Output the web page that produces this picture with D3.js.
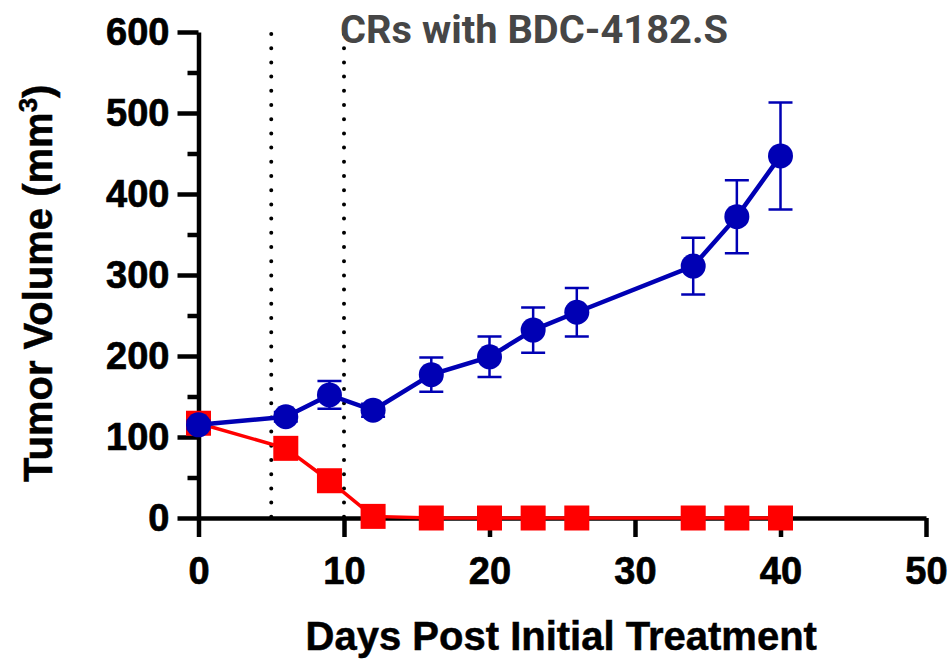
<!DOCTYPE html>
<html>
<head>
<meta charset="utf-8">
<title>CRs with BDC-4182.S</title>
<script src="https://cdn.jsdelivr.net/npm/d3@7"></script>
<style>
  * { margin: 0; padding: 0; }
  body { background: #fff; }
  #chart { width: 951px; height: 659px; }
</style>
</head>
<body>
<div id="chart"></div>
<script>
  // data
  var days = [0, 6, 9, 12, 16, 20, 23, 26, 34, 37, 40];
  var controlMean = [115, 125, 152, 133, 177, 199, 232, 254, 311, 372, 447];
  var controlErr = [5, 6, 17, 8, 21, 25, 28, 30, 35, 45, 66];
  var treatedMean = [117, 86, 46, 2, 0, 0, 0, 0, 0, 0, 0];
  var xTicks = [0, 10, 20, 30, 40, 50];
  var yTicks = [0, 100, 200, 300, 400, 500, 600];
  var yMinor = [50, 150, 250, 350, 450, 550];
  var dosingDays = [5, 10];

  var blue = '#0000b4';
  var red = '#ff0000';
  var font = '"Liberation Sans", Arial, sans-serif';

  var svg = d3.select('#chart').append('svg')
      .attr('width', 951)
      .attr('height', 659);

  var x = d3.scaleLinear().domain([0, 50]).range([198.5, 926]);
  var y = d3.scaleLinear().domain([0, 600]).range([518, 32]);

  // dotted treatment lines
  svg.selectAll('.dose').data(dosingDays)
    .enter().append('line')
      .attr('x1', function(d) { return x(d); })
      .attr('x2', function(d) { return x(d); })
      .attr('y1', y(600) + 2)
      .attr('y2', y(0))
      .attr('stroke', '#000')
      .attr('stroke-width', 4)
      .attr('stroke-linecap', 'round')
      .attr('stroke-dasharray', '0 14.2');

  // axes
  svg.append('g')
      .attr('transform', 'translate(' + x(0) + ',0)')
      .call(d3.axisLeft(y).tickValues(yTicks).tickSize(21).tickSizeOuter(0).tickPadding(8));
  svg.append('g')
      .attr('transform', 'translate(' + x(0) + ',0)')
      .call(d3.axisLeft(y).tickValues(yMinor).tickSize(11).tickSizeOuter(0).tickFormat(''))
      .select('.domain').remove();
  svg.append('g')
      .attr('transform', 'translate(0,' + y(0) + ')')
      .call(d3.axisBottom(x).tickValues(xTicks).tickSize(19).tickSizeOuter(0).tickPadding(20));

  svg.selectAll('.domain, .tick line')
      .attr('stroke', '#000')
      .attr('stroke-width', 4.5);
  svg.selectAll('.tick text')
      .attr('fill', '#000')
      .attr('stroke', '#000')
      .attr('stroke-width', 0.7)
      .style('font-family', font)
      .style('font-weight', 'bold')
      .style('font-size', '38px');

  // treated series (red squares)
  var line = d3.line()
      .x(function(d) { return x(d[0]); })
      .y(function(d) { return y(d[1]); });

  var redPts = days.map(function(d, i) { return [d, treatedMean[i]]; });
  svg.append('path')
      .attr('d', line(redPts))
      .attr('fill', 'none')
      .attr('stroke', red)
      .attr('stroke-width', 3.5);
  var sq = 25;
  svg.selectAll('.sq').data(redPts)
    .enter().append('rect')
      .attr('x', function(d) { return x(d[0]) - sq / 2; })
      .attr('y', function(d) { return y(d[1]) - sq / 2; })
      .attr('width', sq)
      .attr('height', sq)
      .attr('fill', red);

  // control series (blue circles with SEM bars)
  var bluePts = days.map(function(d, i) { return [d, controlMean[i], controlErr[i]]; });
  var capW = 12;
  svg.selectAll('.err').data(bluePts)
    .enter().append('path')
      .attr('d', function(d) {
        var cx = x(d[0]), hi = y(d[1] + d[2]), lo = y(d[1] - d[2]);
        return 'M' + cx + ' ' + hi + 'L' + cx + ' ' + lo +
          'M' + (cx - capW) + ' ' + hi + 'L' + (cx + capW) + ' ' + hi +
          'M' + (cx - capW) + ' ' + lo + 'L' + (cx + capW) + ' ' + lo;
      })
      .attr('fill', 'none')
      .attr('stroke', blue)
      .attr('stroke-width', 2.5);
  svg.append('path')
      .attr('d', line(bluePts))
      .attr('fill', 'none')
      .attr('stroke', blue)
      .attr('stroke-width', 4.5);
  svg.selectAll('.dot').data(bluePts)
    .enter().append('circle')
      .attr('cx', function(d) { return x(d[0]); })
      .attr('cy', function(d) { return y(d[1]); })
      .attr('r', 12.5)
      .attr('fill', blue);

  // labels
  svg.append('text')
      .attr('x', (x(0) + x(50)) / 2 - 1)
      .attr('y', 650)
      .attr('text-anchor', 'middle')
      .attr('stroke', '#000')
      .attr('stroke-width', 0.5)
      .style('font-family', font)
      .style('font-weight', 'bold')
      .style('font-size', '40px')
      .text('Days Post Initial Treatment');

  var yl = svg.append('text')
      .attr('transform', 'translate(52,' + 482 + ') rotate(-90)')
      .attr('text-anchor', 'start')
      .attr('stroke', '#000')
      .attr('stroke-width', 0.5)
      .style('font-family', font)
      .style('font-weight', 'bold')
      .style('font-size', '40px');
  yl.append('tspan').text('Tumor Volume (mm');
  yl.append('tspan').attr('dy', -15).style('font-size', '26px').text('3');
  yl.append('tspan').attr('dy', 15).text(')');

  svg.append('text')
      .attr('x', 340)
      .attr('y', 43)
      .attr('textLength', 388)
      .attr('lengthAdjust', 'spacingAndGlyphs')
      .attr('fill', '#464646')
      .style('font-family', 'Roboto, "Noto Sans", sans-serif')
      .style('font-weight', 'bold')
      .style('font-size', '38px')
      .text('CRs with BDC-4182.S');
</script>
</body>
</html>
